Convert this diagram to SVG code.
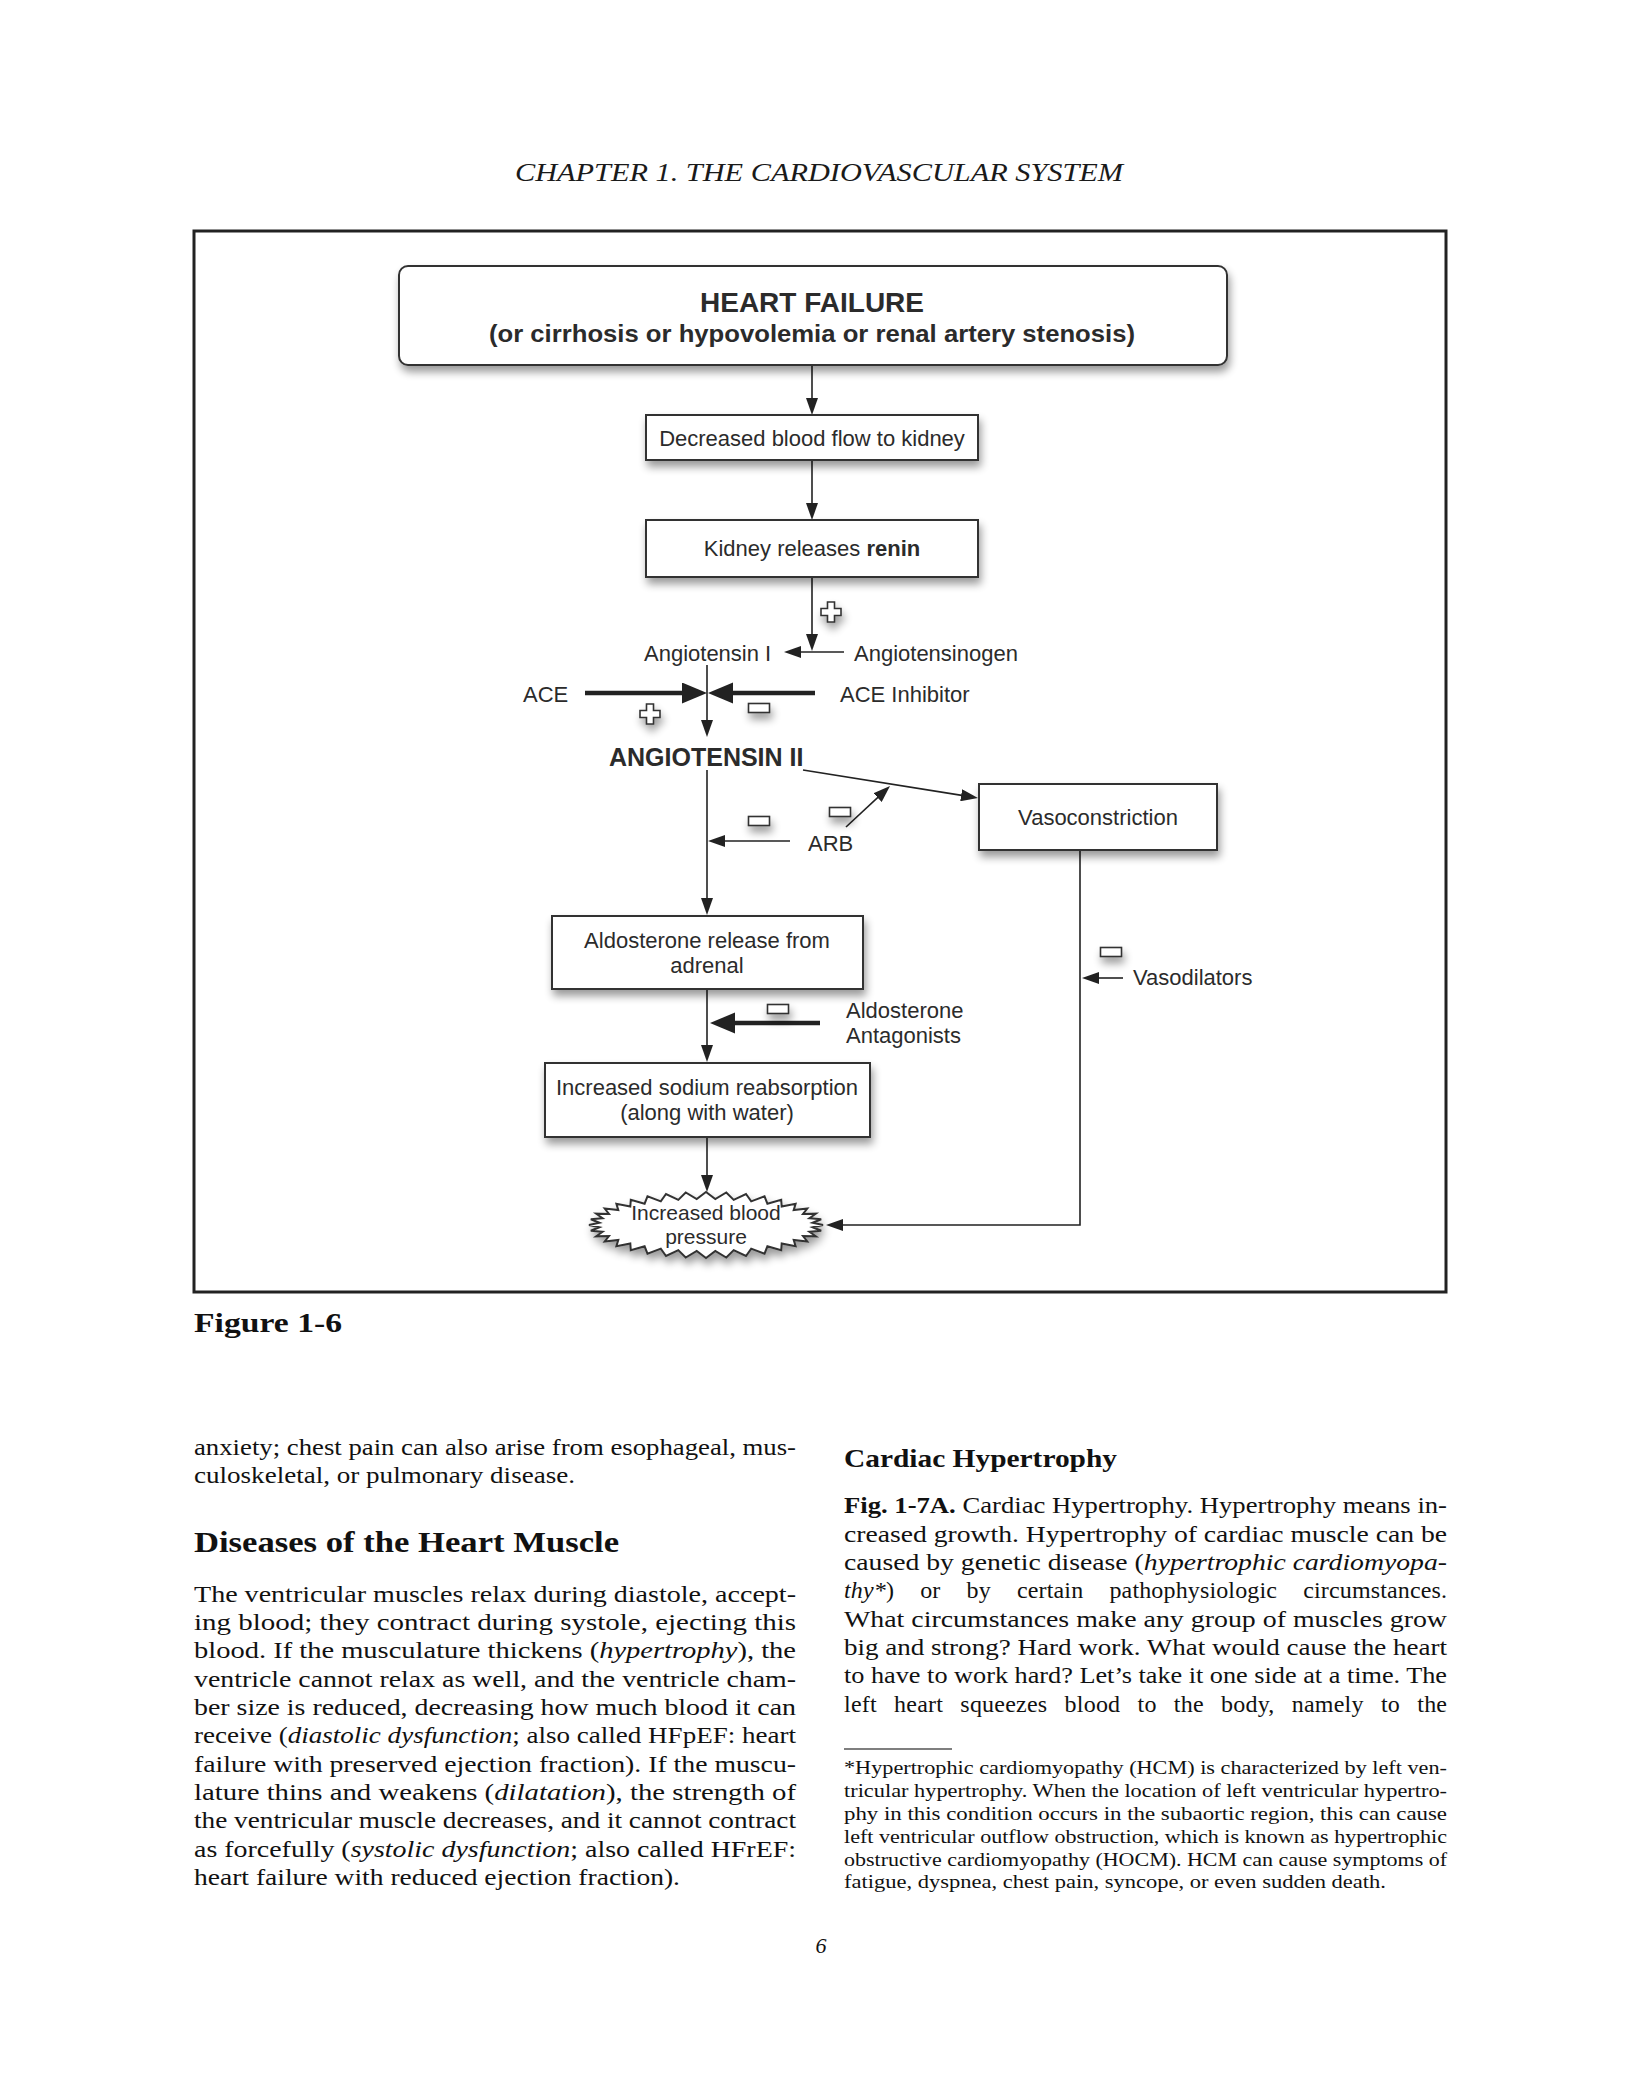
<svg xmlns="http://www.w3.org/2000/svg" width="1625" height="2089" viewBox="0 0 1625 2089">
<style>
.lbl{font-family:"Liberation Sans",Arial,sans-serif;font-size:22px;fill:#2b2b2b}
.bld{font-weight:bold}
.box{fill:#fff;stroke:#333;stroke-width:2}
.ln{stroke:#222;stroke-width:1.6;fill:none}
.thk{stroke:#222;stroke-width:4.5;fill:none}
.sym{fill:#fff;stroke:#333;stroke-width:1.6}
.body{font-family:"Liberation Serif","Times New Roman",serif;font-size:24px;fill:#111}
.fn{font-family:"Liberation Serif","Times New Roman",serif;font-size:19px;fill:#111}
.it{font-style:italic}
</style>
<defs>
<filter id="sh" x="-20%" y="-40%" width="140%" height="190%">
<feGaussianBlur in="SourceAlpha" stdDeviation="4"/>
<feOffset dx="2" dy="6"/>
<feComponentTransfer><feFuncA type="linear" slope="0.4"/></feComponentTransfer>
<feMerge><feMergeNode/><feMergeNode in="SourceGraphic"/></feMerge>
</filter>
<marker id="ah" markerUnits="userSpaceOnUse" markerWidth="18" markerHeight="12" refX="7" refY="6" orient="auto"><path d="M0,0 L17,6 L0,12 z" fill="#222"/></marker>
<marker id="ahT" markerUnits="userSpaceOnUse" markerWidth="26" markerHeight="22" refX="5" refY="10.5" orient="auto"><path d="M0,0 L25,10.5 L0,21 z" fill="#222"/></marker>
<path id="plus" d="M-3.5,-10 H3.5 V-3.5 H10 V3.5 H3.5 V10 H-3.5 V3.5 H-10 V-3.5 H-3.5 Z"/>
<rect id="minus" x="-10.5" y="-4.5" width="21" height="9"/>
</defs>
<rect width="1625" height="2089" fill="#fff"/>

<text x="515" y="181" font-family="Liberation Serif,serif" font-style="italic" font-size="25" fill="#1a1a1a" textLength="608" lengthAdjust="spacingAndGlyphs">CHAPTER 1.  THE CARDIOVASCULAR SYSTEM</text>

<rect id="frame" x="194" y="231" width="1252" height="1061" fill="none" stroke="#222" stroke-width="3"/>

<g id="connectors">
<line class="ln" x1="812" y1="365" x2="812" y2="405" marker-end="url(#ah)"/>
<line class="ln" x1="812" y1="460" x2="812" y2="510" marker-end="url(#ah)"/>
<line class="ln" x1="812" y1="577" x2="812" y2="641" marker-end="url(#ah)"/>
<line class="ln" x1="844" y1="652" x2="794" y2="652" marker-end="url(#ah)"/>
<line class="ln" x1="707" y1="665" x2="707" y2="727" marker-end="url(#ah)"/>
<line class="thk" x1="585" y1="693" x2="687" y2="693" marker-end="url(#ahT)"/>
<line class="thk" x1="815" y1="693" x2="728" y2="693" marker-end="url(#ahT)"/>
<line class="ln" x1="707" y1="770" x2="707" y2="905" marker-end="url(#ah)"/>
<line class="ln" x1="803" y1="770" x2="968.1" y2="796.4" marker-end="url(#ah)"/>
<line class="ln" x1="846" y1="827" x2="882.7" y2="792.8" marker-end="url(#ah)"/>
<line class="ln" x1="790" y1="841" x2="718" y2="841" marker-end="url(#ah)"/>
<path class="ln" d="M1080,850 V1225 H836" marker-end="url(#ah)"/>
<line class="ln" x1="1123" y1="978" x2="1092" y2="978" marker-end="url(#ah)"/>
<line class="ln" x1="707" y1="989" x2="707" y2="1052" marker-end="url(#ah)"/>
<line class="thk" x1="820" y1="1023" x2="730" y2="1023" marker-end="url(#ahT)"/>
<line class="ln" x1="707" y1="1137" x2="707" y2="1182" marker-end="url(#ah)"/>
</g>

<g id="heart-failure">
<rect class="box" x="399" y="266" width="828" height="99" rx="9" filter="url(#sh)"/>
<text class="lbl bld" x="812" y="312" style="font-size:28px" text-anchor="middle">HEART FAILURE</text>
<text class="lbl bld" x="489" y="342" style="font-size:24px" textLength="646" lengthAdjust="spacingAndGlyphs">(or cirrhosis or hypovolemia or renal artery stenosis)</text>
</g>
<g id="decreased-flow">
<rect class="box" x="646" y="415" width="332" height="45" filter="url(#sh)"/>
<text class="lbl" x="812" y="446" text-anchor="middle">Decreased blood flow to kidney</text>
</g>
<g id="kidney-renin">
<rect class="box" x="646" y="520" width="332" height="57" filter="url(#sh)"/>
<text class="lbl" x="812" y="556" text-anchor="middle">Kidney releases <tspan class="bld">renin</tspan></text>
</g>
<g id="angiotensin-i">
<text class="lbl" x="644" y="661">Angiotensin I</text>
</g>
<g id="angiotensinogen">
<text class="lbl" x="854" y="661">Angiotensinogen</text>
</g>
<g id="ace">
<text class="lbl" x="523" y="702">ACE</text>
</g>
<g id="ace-inhibitor">
<text class="lbl" x="840" y="702">ACE Inhibitor</text>
</g>
<g id="angiotensin-ii">
<text class="lbl bld" x="609" y="766" style="font-size:25px">ANGIOTENSIN II</text>
</g>
<g id="arb">
<text class="lbl" x="808" y="851">ARB</text>
</g>
<g id="vasoconstriction">
<rect class="box" x="979" y="784" width="238" height="66" filter="url(#sh)"/>
<text class="lbl" x="1098" y="825" text-anchor="middle">Vasoconstriction</text>
</g>
<g id="vasodilators">
<text class="lbl" x="1133" y="985">Vasodilators</text>
</g>
<g id="aldosterone-release">
<rect class="box" x="552" y="916" width="311" height="73" filter="url(#sh)"/>
<text class="lbl" x="707" y="948" text-anchor="middle">Aldosterone release from</text>
<text class="lbl" x="707" y="973" text-anchor="middle">adrenal</text>
</g>
<g id="aldosterone-antagonists">
<text class="lbl" x="846" y="1018">Aldosterone</text>
<text class="lbl" x="846" y="1043">Antagonists</text>
</g>
<g id="sodium-reabsorption">
<rect class="box" x="545" y="1063" width="325" height="74" filter="url(#sh)"/>
<text class="lbl" x="707" y="1095" text-anchor="middle">Increased sodium reabsorption</text>
<text class="lbl" x="707" y="1120" text-anchor="middle">(along with water)</text>
</g>
<g id="blood-pressure">
<polygon class="box" filter="url(#sh)" points="823,1225 812.6,1227.3 821.2,1230.7 809.4,1231.7 815.9,1236.3 803,1236 807.3,1241.5 793.7,1239.9 795.6,1246.2 781.7,1243.4 781.2,1250.3 767.4,1246.3 764.5,1253.6 751.2,1248.6 746,1256 733.7,1250.1 726.3,1257.5 715.3,1250.9 706,1258 696.7,1250.9 685.7,1257.5 678.3,1250.1 666,1256 660.8,1248.6 647.5,1253.6 644.6,1246.3 630.8,1250.3 630.3,1243.4 616.4,1246.2 618.3,1239.9 604.7,1241.5 609,1236 596.1,1236.3 602.6,1231.7 590.8,1230.7 599.4,1227.3 589,1225 599.4,1222.7 590.8,1219.3 602.6,1218.3 596.1,1213.7 609,1214 604.7,1208.5 618.3,1210.1 616.4,1203.8 630.3,1206.6 630.8,1199.7 644.6,1203.7 647.5,1196.4 660.8,1201.4 666,1194 678.3,1199.9 685.7,1192.5 696.7,1199.1 706,1192 715.3,1199.1 726.3,1192.5 733.7,1199.9 746,1194 751.2,1201.4 764.5,1196.4 767.4,1203.7 781.2,1199.7 781.7,1206.6 795.6,1203.8 793.7,1210.1 807.3,1208.5 803,1214 815.9,1213.7 809.4,1218.3 821.2,1219.3 812.6,1222.7"/>
<text class="lbl" x="706" y="1220" style="font-size:21px" text-anchor="middle">Increased blood</text>
<text class="lbl" x="706" y="1244" style="font-size:21px" text-anchor="middle">pressure</text>
</g>
<g id="signs" filter="url(#sh)">
<use href="#plus" class="sym" x="831" y="612"/>
<use href="#plus" class="sym" x="650" y="714"/>
<use href="#minus" class="sym" x="759" y="708"/>
<use href="#minus" class="sym" x="759" y="821"/>
<use href="#minus" class="sym" x="840" y="812"/>
<use href="#minus" class="sym" x="1111" y="952"/>
<use href="#minus" class="sym" x="778" y="1009"/>
</g>

<text x="194" y="1332" font-family="Liberation Serif,serif" font-weight="bold" font-size="27" fill="#111" textLength="148" lengthAdjust="spacingAndGlyphs">Figure 1-6</text>

<g id="left-column">
<text class="body" x="194" y="1455" textLength="602" lengthAdjust="spacingAndGlyphs">anxiety; chest pain can also arise from esophageal, mus-</text>
<text class="body" x="194" y="1483" textLength="381" lengthAdjust="spacingAndGlyphs">culoskeletal, or pulmonary disease.</text>
<text x="194" y="1552" font-family="Liberation Serif,serif" font-weight="bold" font-size="30" fill="#111" textLength="425" lengthAdjust="spacingAndGlyphs">Diseases of the Heart Muscle</text>
<text class="body" x="194" y="1602" textLength="602" lengthAdjust="spacingAndGlyphs">The ventricular muscles relax during diastole, accept-</text>
<text class="body" x="194" y="1630" textLength="602" lengthAdjust="spacingAndGlyphs">ing blood; they contract during systole, ejecting this</text>
<text class="body" x="194" y="1658" textLength="602" lengthAdjust="spacingAndGlyphs">blood. If the musculature thickens (<tspan class="it">hypertrophy</tspan>), the</text>
<text class="body" x="194" y="1687" textLength="602" lengthAdjust="spacingAndGlyphs">ventricle cannot relax as well, and the ventricle cham-</text>
<text class="body" x="194" y="1715" textLength="602" lengthAdjust="spacingAndGlyphs">ber size is reduced, decreasing how much blood it can</text>
<text class="body" x="194" y="1743" textLength="602" lengthAdjust="spacingAndGlyphs">receive (<tspan class="it">diastolic dysfunction</tspan>; also called HFpEF: heart</text>
<text class="body" x="194" y="1772" textLength="602" lengthAdjust="spacingAndGlyphs">failure with preserved ejection fraction). If the muscu-</text>
<text class="body" x="194" y="1800" textLength="602" lengthAdjust="spacingAndGlyphs">lature thins and weakens (<tspan class="it">dilatation</tspan>), the strength of</text>
<text class="body" x="194" y="1828" textLength="602" lengthAdjust="spacingAndGlyphs">the ventricular muscle decreases, and it cannot contract</text>
<text class="body" x="194" y="1857" textLength="602" lengthAdjust="spacingAndGlyphs">as forcefully (<tspan class="it">systolic dysfunction</tspan>; also called HFrEF:</text>
<text class="body" x="194" y="1885" textLength="486" lengthAdjust="spacingAndGlyphs">heart failure with reduced ejection fraction).</text>
</g>

<g id="right-column">
<text x="844" y="1467" font-family="Liberation Serif,serif" font-weight="bold" font-size="26" fill="#111" textLength="273" lengthAdjust="spacingAndGlyphs">Cardiac Hypertrophy</text>
<text class="body" x="844" y="1513" textLength="603" lengthAdjust="spacingAndGlyphs"><tspan font-weight="bold">Fig. 1-7A.</tspan> Cardiac Hypertrophy. Hypertrophy means in-</text>
<text class="body" x="844" y="1542" textLength="603" lengthAdjust="spacingAndGlyphs">creased growth. Hypertrophy of cardiac muscle can be</text>
<text class="body" x="844" y="1570" textLength="603" lengthAdjust="spacingAndGlyphs">caused by genetic disease (<tspan class="it">hypertrophic cardiomyopa-</tspan></text>
<text class="body" x="844" y="1598" word-spacing="20" textLength="603" lengthAdjust="spacing"><tspan class="it">thy*</tspan>) or by certain pathophysiologic circumstances.</text>
<text class="body" x="844" y="1627" textLength="603" lengthAdjust="spacingAndGlyphs">What circumstances make any group of muscles grow</text>
<text class="body" x="844" y="1655" textLength="603" lengthAdjust="spacingAndGlyphs">big and strong? Hard work. What would cause the heart</text>
<text class="body" x="844" y="1683" textLength="603" lengthAdjust="spacingAndGlyphs">to have to work hard? Let’s take it one side at a time. The</text>
<text class="body" x="844" y="1712" word-spacing="11" textLength="603" lengthAdjust="spacing">left heart squeezes blood to the body, namely to the</text>
<line x1="844" y1="1749" x2="952" y2="1749" stroke="#555" stroke-width="1.5"/>
<text class="fn" x="844" y="1774" textLength="603" lengthAdjust="spacingAndGlyphs">*Hypertrophic cardiomyopathy (HCM) is characterized by left ven-</text>
<text class="fn" x="844" y="1797" textLength="603" lengthAdjust="spacingAndGlyphs">tricular hypertrophy. When the location of left ventricular hypertro-</text>
<text class="fn" x="844" y="1820" textLength="603" lengthAdjust="spacingAndGlyphs">phy in this condition occurs in the subaortic region, this can cause</text>
<text class="fn" x="844" y="1843" textLength="603" lengthAdjust="spacingAndGlyphs">left ventricular outflow obstruction, which is known as hypertrophic</text>
<text class="fn" x="844" y="1866" textLength="603" lengthAdjust="spacingAndGlyphs">obstructive cardiomyopathy (HOCM). HCM can cause symptoms of</text>
<text class="fn" x="844" y="1888" textLength="542" lengthAdjust="spacingAndGlyphs">fatigue, dyspnea, chest pain, syncope, or even sudden death.</text>
</g>

<text x="821" y="1953" font-family="Liberation Serif,serif" font-style="italic" font-size="22" fill="#111" text-anchor="middle">6</text>
</svg>
